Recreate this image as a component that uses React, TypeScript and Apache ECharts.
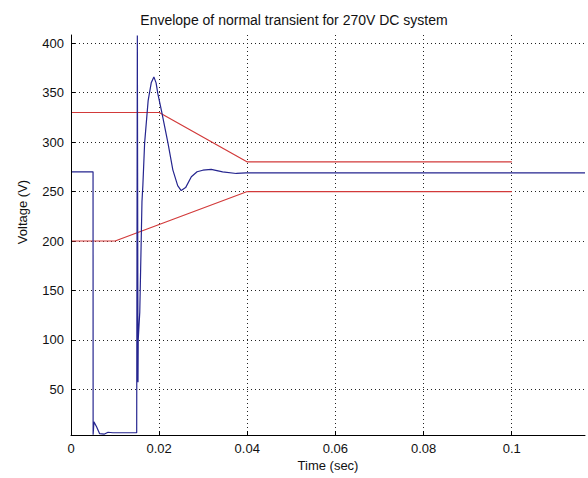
import React, { useEffect, useRef } from "react";
import * as echarts from "echarts";

// ---- data ----
const titleText = "Envelope of normal transient for 270V DC system";
const xName = "Time (sec)";
const yName = "Voltage (V)";

const xTicks = [0, 0.02, 0.04, 0.06, 0.08, 0.1];
const yTicks = [50, 100, 150, 200, 250, 300, 350, 400];

const upperTime = [0, 0.02, 0.04, 0.1];
const upperVolt = [330, 330, 280, 280];

const lowerTime = [0, 0.01, 0.04, 0.1];
const lowerVolt = [200, 200, 250, 250];

const busTime = [
  0, 0.005, 0.00502, 0.0052, 0.0058, 0.0065, 0.0075, 0.0084, 0.0095, 0.0149,
  0.015, 0.01505, 0.0152, 0.01525, 0.0156, 0.0158, 0.0161, 0.0163, 0.0167,
  0.0175, 0.0182, 0.0188, 0.0193, 0.0197, 0.0206, 0.022, 0.0231, 0.0242,
  0.025, 0.026, 0.0273, 0.0286, 0.0299, 0.0318, 0.0344, 0.0375, 0.0397, 0.1166,
];
const busVolt = [
  270, 270, 4, 17, 12, 5, 4.5, 6.5, 6, 6,
  6, 408, 57, 100, 128, 172, 240, 256, 299,
  342, 360, 366, 360, 349, 330, 299, 272, 256,
  251, 254, 265, 270, 271.6, 272.4, 270, 268.3, 269, 269,
];

const X_MIN = 0;
const X_MAX = 0.1166;
const Y_MIN = 3.7;
const Y_MAX = 408.4;

const zip = (a: number[], b: number[]) => a.map((v, i) => [v, b[i]]);

const FONT = "Liberation Sans, Arial, Helvetica, sans-serif";
const BLUE = "#25258f";
const RED = "#d23a3a";

export default function App() {
  const ref = useRef<HTMLDivElement>(null);

  useEffect(() => {
    if (!ref.current) return;
    const chart = echarts.init(ref.current, undefined, { renderer: "svg" });
    const dotted = { color: "#222", width: 1, type: [1, 3] as any };

    chart.setOption({
      animation: false,
      backgroundColor: "#fff",
      textStyle: { fontFamily: FONT },
      title: {
        text: titleText,
        left: "center",
        top: 8,
        textStyle: { fontFamily: FONT, fontSize: 14, fontWeight: "normal", color: "#111" },
      },
      grid: [
        // main plotting grid
        { left: 71, right: 3, top: 35, bottom: 43 },
        // horizontal gridlines + y labels (50..400)
        { left: 71, right: 3, top: 43.3, bottom: 88.7 },
        // vertical gridlines + x labels (0..0.1)
        { left: 71, right: 76.3, top: 35, bottom: 43 },
      ],
      xAxis: [
        {
          gridIndex: 0,
          type: "value",
          min: X_MIN,
          max: X_MAX,
          axisLine: { show: true, onZero: false, lineStyle: { color: "#000", width: 1 } },
          axisTick: { show: false },
          axisLabel: { show: false },
          splitLine: { show: false },
          name: xName,
          nameLocation: "middle",
          nameGap: 24,
          nameTextStyle: { fontFamily: FONT, fontSize: 13, color: "#111" },
          z: 5,
        },
        {
          gridIndex: 1,
          type: "value",
          min: 0,
          max: 1,
          show: false,
        },
        {
          gridIndex: 2,
          type: "value",
          min: xTicks[0],
          max: xTicks[xTicks.length - 1],
          interval: 0.02,
          axisLine: { show: false },
          axisTick: { show: true, inside: true, length: 4, lineStyle: { color: "#000" } },
          axisLabel: {
            show: true,
            margin: 7,
            fontFamily: FONT,
            fontSize: 13,
            color: "#111",
            formatter: (v: number) => (v === 0 ? "0" : String(+v.toFixed(2))),
          },
          splitLine: { show: true, lineStyle: dotted },
        },
      ],
      yAxis: [
        {
          gridIndex: 0,
          type: "value",
          min: Y_MIN,
          max: Y_MAX,
          axisLine: { show: true, onZero: false, lineStyle: { color: "#000", width: 1 } },
          axisTick: { show: false },
          axisLabel: { show: false },
          splitLine: { show: false },
          z: 5,
        },
        {
          gridIndex: 1,
          type: "value",
          min: yTicks[0],
          max: yTicks[yTicks.length - 1],
          interval: 50,
          axisLine: { show: false },
          axisTick: { show: true, inside: true, length: 4, lineStyle: { color: "#000" } },
          axisLabel: {
            show: true,
            margin: 7,
            fontFamily: FONT,
            fontSize: 13,
            color: "#111",
          },
          splitLine: { show: true, lineStyle: dotted },
        },
        {
          gridIndex: 2,
          type: "value",
          min: 0,
          max: 1,
          show: false,
        },
      ],
      graphic: [
        {
          type: "text",
          x: 22,
          y: 212,
          rotation: Math.PI / 2,
          style: {
            text: yName,
            fontFamily: FONT,
            fontSize: 13,
            fill: "#111",
            textAlign: "center",
            textVerticalAlign: "middle",
          },
        },
      ],
      series: [
        {
          type: "line",
          name: "upper",
          xAxisIndex: 0,
          yAxisIndex: 0,
          data: zip(upperTime, upperVolt),
          showSymbol: false,
          lineStyle: { color: RED, width: 1.2 },
          z: 3,
        },
        {
          type: "line",
          name: "lower",
          xAxisIndex: 0,
          yAxisIndex: 0,
          data: zip(lowerTime, lowerVolt),
          showSymbol: false,
          lineStyle: { color: RED, width: 1.2 },
          z: 3,
        },
        {
          type: "line",
          name: "bus",
          xAxisIndex: 0,
          yAxisIndex: 0,
          data: zip(busTime, busVolt),
          showSymbol: false,
          clip: true,
          lineStyle: { color: BLUE, width: 1.2 },
          z: 4,
        },
      ],
    });

    return () => chart.dispose();
  }, []);

  return (
    <div
      ref={ref}
      style={{ position: "fixed", left: 0, top: 0, width: 588, height: 478, background: "#fff" }}
    />
  );
}
